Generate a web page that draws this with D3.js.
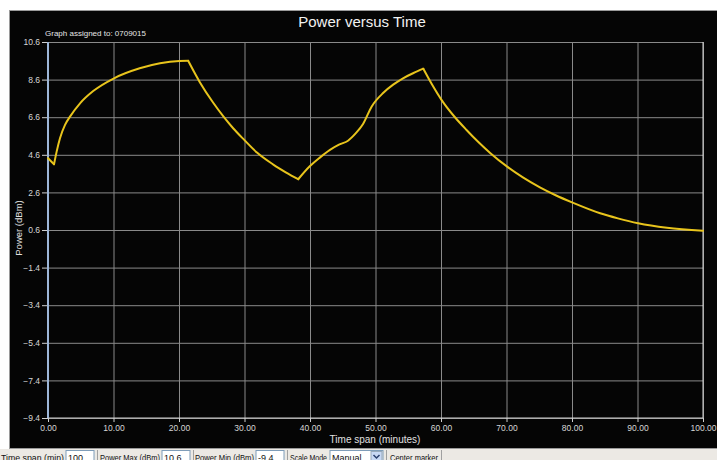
<!DOCTYPE html>
<html>
<head>
<meta charset="utf-8">
<script src="https://cdn.jsdelivr.net/npm/d3@7"></script>
<style>
body { margin: 0; background: #fff; }
text { font-family: "Liberation Sans", Arial, sans-serif; }
</style>
</head>
<body>
<div id="chart"></div>
<script>
// readings
var timeMin = [0, 0.92, 1.32, 1.83, 2.6, 3.36, 4.89, 6.9, 10.08, 14.0, 17.1, 20.05, 21.4,
  23.2, 25.2, 26.8, 28.3, 30.0, 31.9, 34.4, 36.3, 38.2,
  40.0, 41.5, 43.05, 44.5, 45.8, 47.0, 48.1, 49.4, 51.2, 52.7, 54.2, 55.8, 57.3,
  58.7, 60.1, 62.0, 63.9, 65.7, 67.5, 70.1, 72.5, 75.1, 77.5, 80.0, 84.3, 87.0, 90.1, 94.5, 100];
var powerDbm = [4.42, 4.1, 4.77, 5.48, 6.19, 6.63, 7.34, 7.99, 8.67, 9.2, 9.47, 9.59, 9.6,
  8.45, 7.38, 6.63, 6.0, 5.38, 4.72, 4.08, 3.67, 3.3,
  4.0, 4.45, 4.86, 5.15, 5.35, 5.75, 6.24, 7.16, 7.9, 8.33, 8.67, 8.95, 9.18,
  8.3, 7.51, 6.65, 5.92, 5.28, 4.7, 3.97, 3.4, 2.87, 2.45, 2.07, 1.49, 1.22, 0.96, 0.72, 0.56];
// indices where the trace turns sharply
var cusps = [0, 1, 12, 21, 34, 50];
var yTicks = [10.6, 8.6, 6.6, 4.6, 2.6, 0.6, -1.4, -3.4, -5.4, -7.4, -9.4];
var xTicks = [0, 10, 20, 30, 40, 50, 60, 70, 80, 90, 100];

var width = 717, height = 460;
var plotL = 48, plotR = 703, plotT = 42, plotB = 418;

var svg = d3.select("#chart").append("svg")
  .attr("width", width)
  .attr("height", height);

// black panel
svg.append("rect")
  .attr("x", 9.5).attr("y", 10.5)
  .attr("width", width - 9).attr("height", 438)
  .attr("fill", "#050505")
  .attr("stroke", "#9a9a9a").attr("stroke-width", 1);

var x = d3.scaleLinear().domain([0, 100]).range([plotL, plotR]);
var y = d3.scaleLinear().domain([-9.4, 10.6]).range([plotB, plotT]);

// grid
var gx = svg.append("g")
  .attr("transform", "translate(0," + plotB + ")")
  .call(d3.axisBottom(x).tickValues(xTicks).tickSize(-(plotB - plotT)).tickFormat(""));
gx.selectAll("line").attr("stroke", "#8a8a8a");
gx.select(".domain").remove();

var gy = svg.append("g")
  .attr("transform", "translate(" + plotL + ",0)")
  .call(d3.axisLeft(y).tickValues(yTicks).tickSize(-(plotR - plotL)).tickFormat(""));
gy.selectAll("line").attr("stroke", "#8a8a8a");
gy.select(".domain").remove();

// border lines
svg.append("line")
  .attr("x1", plotR).attr("x2", plotR).attr("y1", plotT).attr("y2", plotB)
  .attr("stroke", "#d8d8d8");
svg.append("line")
  .attr("x1", plotL).attr("x2", plotR).attr("y1", plotB).attr("y2", plotB)
  .attr("stroke", "#cfcfcf");

// axes with labels
var ax = svg.append("g")
  .attr("transform", "translate(0," + plotB + ")")
  .call(d3.axisBottom(x).tickValues(xTicks).tickSize(4).tickFormat(d3.format(".2f")));
ax.select(".domain").remove();
ax.selectAll("line").attr("stroke", "#cfcfcf");
ax.selectAll("text").attr("fill", "#d6d6d6").attr("font-size", "8.5px")
  .attr("font-family", "Liberation Sans, Arial, sans-serif");

var ay = svg.append("g")
  .attr("transform", "translate(" + plotL + ",0)")
  .call(d3.axisLeft(y).tickValues(yTicks).tickSize(6).tickFormat(d3.format(".1f")));
ay.select(".domain").remove();
ay.selectAll("line").attr("stroke", "#cfcfcf");
ay.selectAll("text").attr("fill", "#d6d6d6").attr("font-size", "8.5px")
  .attr("font-family", "Liberation Sans, Arial, sans-serif").attr("x", -8);

svg.append("line")
  .attr("x1", plotL).attr("x2", plotL).attr("y1", plotT).attr("y2", plotB)
  .attr("stroke", "#9db6d8").attr("stroke-width", 2);

// trace, smooth between the sharp turns
var line = d3.line()
  .x(function(i) { return x(timeMin[i]); })
  .y(function(i) { return y(powerDbm[i]); })
  .curve(d3.curveMonotoneX);

for (var s = 0; s < cusps.length - 1; s++) {
  svg.append("path")
    .attr("d", line(d3.range(cusps[s], cusps[s + 1] + 1)))
    .attr("fill", "none")
    .attr("stroke", "#e8c41c")
    .attr("stroke-width", 2)
    .attr("stroke-linejoin", "round")
    .attr("stroke-linecap", "round");
}

// titles
svg.append("text")
  .attr("x", 362).attr("y", 27)
  .attr("text-anchor", "middle")
  .attr("fill", "#f2f2f2").attr("font-size", "15px")
  .text("Power versus Time");
svg.append("text")
  .attr("x", 45).attr("y", 36)
  .attr("fill", "#e6e6e6").attr("font-size", "8px")
  .text("Graph assigned to: 0709015");
svg.append("text")
  .attr("transform", "translate(22,228) rotate(-90)")
  .attr("text-anchor", "middle")
  .attr("fill", "#e0e0e0").attr("font-size", "9.5px")
  .text("Power (dBm)");
svg.append("text")
  .attr("x", 375).attr("y", 443)
  .attr("text-anchor", "middle")
  .attr("fill", "#e0e0e0").attr("font-size", "10px")
  .text("Time span (minutes)");

// toolbar under the chart
var bar = svg.append("g");
bar.append("rect")
  .attr("x", 0).attr("y", 449).attr("width", width).attr("height", 11)
  .attr("fill", "#ece9e4");
var fields = [
  { label: "Time span (min)", lx: 1, lw: 63, box: [66, 94], val: "100" },
  { label: "Power Max (dBm)", lx: 100, lw: 60, box: [162, 190], val: "10.6" },
  { label: "Power Min (dBm)", lx: 195, lw: 59, box: [256, 284], val: "-9.4" },
  { label: "Scale Mode", lx: 290, lw: 37, box: [330, 383], val: "Manual" }
];
fields.forEach(function(f) {
  bar.append("text").attr("x", f.lx).attr("y", 460.5)
    .attr("fill", "#111").attr("font-size", "9px")
    .attr("textLength", f.lw).attr("lengthAdjust", "spacingAndGlyphs")
    .text(f.label);
  bar.append("rect").attr("x", f.box[0]).attr("y", 450.5)
    .attr("width", f.box[1] - f.box[0]).attr("height", 12)
    .attr("fill", "#fff").attr("stroke", "#7f9db9");
  bar.append("text").attr("x", f.box[0] + 2).attr("y", 460.5)
    .attr("fill", "#111").attr("font-size", "9px").text(f.val);
  bar.append("line").attr("x1", f.box[1] + 3.5).attr("x2", f.box[1] + 3.5)
    .attr("y1", 450).attr("y2", 460).attr("stroke", "#a0a0a0");
});
bar.append("rect").attr("x", 371).attr("y", 451.5).attr("width", 11).attr("height", 10)
  .attr("fill", "#c8d8f4").attr("stroke", "#9ab");
bar.append("path").attr("d", "M373.5,455 L376.5,458 L379.5,455")
  .attr("fill", "none").attr("stroke", "#2a3f6e").attr("stroke-width", 1.5);
bar.append("text").attr("x", 390).attr("y", 460.5)
  .attr("fill", "#111").attr("font-size", "9px")
  .attr("textLength", 48).attr("lengthAdjust", "spacingAndGlyphs")
  .text("Center marker");
bar.append("line").attr("x1", 441.5).attr("x2", 441.5)
  .attr("y1", 450).attr("y2", 460).attr("stroke", "#a0a0a0");
</script>
</body>
</html>
